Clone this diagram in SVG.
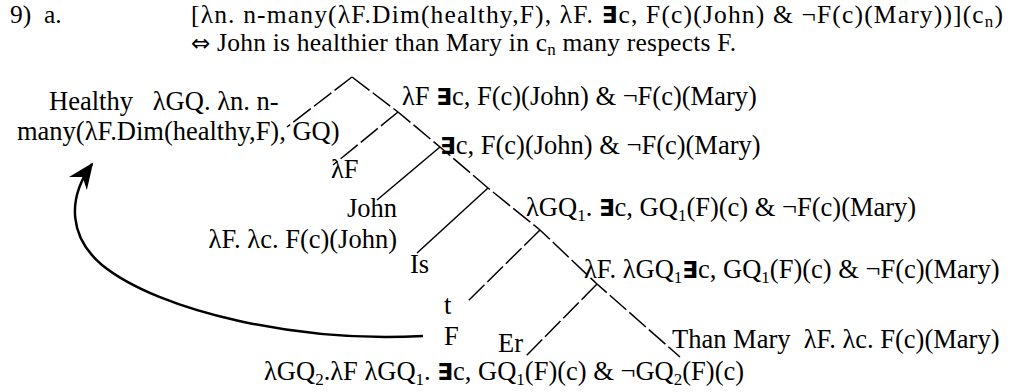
<svg xmlns="http://www.w3.org/2000/svg" width="1017" height="392" viewBox="0 0 1017 392">
<style>
text{font-family:"Liberation Serif","Times New Roman",serif;font-size:26.5px;fill:#000;white-space:pre}
.h{font-size:25.5px}
.sub{font-size:17px}
.e{font-family:"DejaVu Sans","Liberation Sans",sans-serif;font-weight:bold;font-size:23px}
.ar{font-family:"DejaVu Sans",sans-serif;font-size:23px}
.ln{stroke:#000;stroke-width:1.5;fill:none}
.d{stroke-dasharray:22 4}
</style>
<defs>
<marker id="ah" markerUnits="userSpaceOnUse" markerWidth="28" markerHeight="28" viewBox="0 0 28 28" refX="24" refY="14" orient="auto">
<path d="M0,3 L26,14 L0,25 L8,14 Z" fill="#000"/>
</marker>
</defs>
<rect width="1017" height="392" fill="#fff"/>
<g id="header">
<text class="h" x="10" y="23" xml:space="preserve">9)  a.</text>
<text class="h" x="191" y="23" textLength="812" lengthAdjust="spacing">[λn. n-many(λF.Dim(healthy,F), λF. <tspan class="e">∃</tspan>c, F(c)(John) &amp; ¬F(c)(Mary))](c<tspan class="sub" dy="4">n</tspan><tspan dy="-4">)</tspan></text>
<text class="h" x="191" y="51" textLength="545" lengthAdjust="spacing"><tspan class="ar">⇔</tspan> John is healthier than Mary in c<tspan class="sub" dy="4">n</tspan><tspan dy="-4"> many respects F.</tspan></text>
</g>
<g id="connectors">
<line class="ln d" x1="352" y1="77" x2="287" y2="127"/>
<polyline class="ln d" points="352,77 398,112 440,147 488,188 540,230 597,284 680,357"/>
<line class="ln d" x1="398" y1="112" x2="333" y2="165"/>
<line class="ln" x1="440" y1="147" x2="377" y2="200"/>
<line class="ln" x1="488" y1="188" x2="417" y2="253"/>
<line class="ln d" x1="540" y1="230" x2="467" y2="302"/>
<line class="ln d" x1="597" y1="284" x2="525" y2="357"/>
<path class="ln" style="stroke-width:2.5" d="M423,336 C300,343 160,312 102,265 C70,238 66,200 92,164" marker-end="url(#ah)"/>
</g>
<g id="n-root">
<text x="402" y="105">λF <tspan class="e">∃</tspan>c, F(c)(John) &amp; ¬F(c)(Mary)</text>
</g>
<g id="n-healthy">
<text x="49" y="110" xml:space="preserve">Healthy   λGQ. λn. n-</text>
<text x="17" y="140">many(λF.Dim(healthy,F), GQ)</text>
</g>
<g id="n-exists">
<text x="440" y="154"><tspan class="e">∃</tspan>c, F(c)(John) &amp; ¬F(c)(Mary)</text>
</g>
<g id="n-lf"><text x="331" y="178">λF</text></g>
<g id="n-john">
<text x="397" y="217" text-anchor="end">John</text>
<text x="397" y="248" text-anchor="end">λF. λc. F(c)(John)</text>
</g>
<g id="n-gq1">
<text x="526" y="216">λGQ<tspan class="sub" dy="5">1</tspan><tspan dy="-5">. </tspan><tspan class="e">∃</tspan>c, GQ<tspan class="sub" dy="5">1</tspan><tspan dy="-5">(F)(c) &amp; ¬F(c)(Mary)</tspan></text>
</g>
<g id="n-is"><text x="410" y="273">Is</text></g>
<g id="n-lfgq1">
<text x="584" y="278">λF. λGQ<tspan class="sub" dy="5">1</tspan><tspan dy="-5" class="e">∃</tspan>c, GQ<tspan class="sub" dy="5">1</tspan><tspan dy="-5">(F)(c) &amp; ¬F(c)(Mary)</tspan></text>
</g>
<g id="n-t"><text x="444" y="314">t</text><text x="444" y="345">F</text></g>
<g id="n-er"><text x="498" y="352">Er</text></g>
<g id="n-than">
<text x="672" y="348" xml:space="preserve">Than Mary  λF. λc. F(c)(Mary)</text>
</g>
<g id="n-gq2">
<text x="264" y="380">λGQ<tspan class="sub" dy="5">2</tspan><tspan dy="-5">.λF λGQ</tspan><tspan class="sub" dy="5">1</tspan><tspan dy="-5">. </tspan><tspan class="e">∃</tspan>c, GQ<tspan class="sub" dy="5">1</tspan><tspan dy="-5">(F)(c) &amp; ¬GQ</tspan><tspan class="sub" dy="5">2</tspan><tspan dy="-5">(F)(c)</tspan></text>
</g>
</svg>
